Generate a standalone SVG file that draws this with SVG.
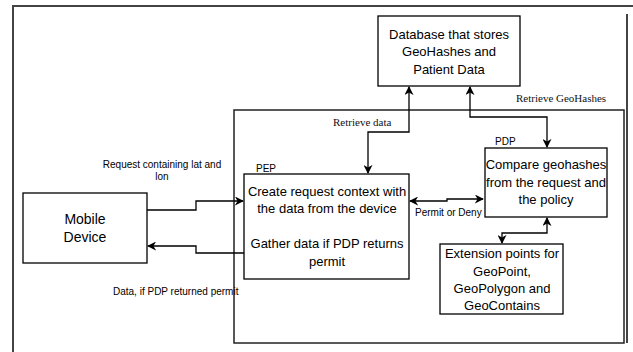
<svg xmlns="http://www.w3.org/2000/svg" width="633" height="352" viewBox="0 0 633 352">
<defs>
<style>
.box{fill:#fff;stroke:#000;stroke-width:1.3}
.frame{fill:none;stroke:#444;stroke-width:2}
.edge{fill:none;stroke:#000;stroke-width:1.3}
.t{font-family:"Liberation Sans",Arial,sans-serif;font-size:13px;fill:#000;text-anchor:middle}
.s{font-family:"Liberation Sans",Arial,sans-serif;font-size:10px;fill:#000}
.serif{font-family:"Liberation Serif","Times New Roman",serif;font-size:11px;fill:#111}
</style>
<marker id="arr" viewBox="0 0 10 10" refX="9" refY="5" markerWidth="9" markerHeight="9" markerUnits="userSpaceOnUse" orient="auto-start-reverse">
<path d="M0,0 L10,5 L0,10 L3,5 Z" fill="#000"/>
</marker>
</defs>
<g id="frame">
<path class="frame" d="M12,6 H633 M13,6 V352 M627,14 V343"/>
</g>
<g id="container">
<rect class="frame" x="234" y="110" width="390" height="233" style="stroke:#222;stroke-width:1.5"/>
</g>
<g id="connectors">
<path class="edge" d="M409,87 V132 H368 V173" marker-start="url(#arr)" marker-end="url(#arr)"/>
<path class="edge" d="M470,87 V117 H547 V147" marker-start="url(#arr)" marker-end="url(#arr)"/>
<path class="edge" d="M147,210 H196 V201 H243" marker-end="url(#arr)"/>
<path class="edge" d="M244,253 H196 V246 H148" marker-end="url(#arr)"/>
<path class="edge" d="M410,201 H447 V199 H483" marker-start="url(#arr)" marker-end="url(#arr)"/>
<path class="edge" d="M502,243 V233 H547 V218" marker-start="url(#arr)" marker-end="url(#arr)"/>
</g>
<g id="database">
<rect class="box" x="378" y="16" width="142" height="70"/>
<text class="t" x="449" y="39">Database that stores</text>
<text class="t" x="449" y="56">GeoHashes and</text>
<text class="t" x="449" y="74">Patient Data</text>
</g>
<g id="mobile">
<rect class="box" x="23" y="193" width="124" height="70"/>
<text class="t" x="85" y="224" style="font-size:14px">Mobile</text>
<text class="t" x="85" y="242" style="font-size:14px">Device</text>
</g>
<g id="pep">
<rect class="box" x="244" y="174" width="165" height="105"/>
<text class="s" x="256" y="172">PEP</text>
<text class="t" x="327" y="196">Create request context with</text>
<text class="t" x="327" y="213">the data from the device</text>
<text class="t" x="327" y="248">Gather data if PDP returns</text>
<text class="t" x="327" y="266">permit</text>
</g>
<g id="pdp">
<rect class="box" x="485" y="148" width="122" height="69"/>
<text class="s" x="495" y="145">PDP</text>
<text class="t" x="546" y="169">Compare geohashes</text>
<text class="t" x="546" y="187">from the request and</text>
<text class="t" x="546" y="204">the policy</text>
</g>
<g id="extension">
<rect class="box" x="440" y="244" width="123" height="70"/>
<text class="t" x="502" y="258">Extension points for</text>
<text class="t" x="502" y="276">GeoPoint,</text>
<text class="t" x="502" y="293">GeoPolygon and</text>
<text class="t" x="502" y="310">GeoContains</text>
</g>
<g id="labels">
<text class="serif" x="333" y="126">Retrieve data</text>
<text class="serif" x="516" y="102">Retrieve GeoHashes</text>
<text class="s" x="162" y="168" text-anchor="middle">Request containing lat and</text>
<text class="s" x="162" y="180" text-anchor="middle">lon</text>
<text class="s" x="113" y="295">Data, if PDP returned permit</text>
<text class="s" x="415" y="216">Permit or Deny</text>
</g>
</svg>
